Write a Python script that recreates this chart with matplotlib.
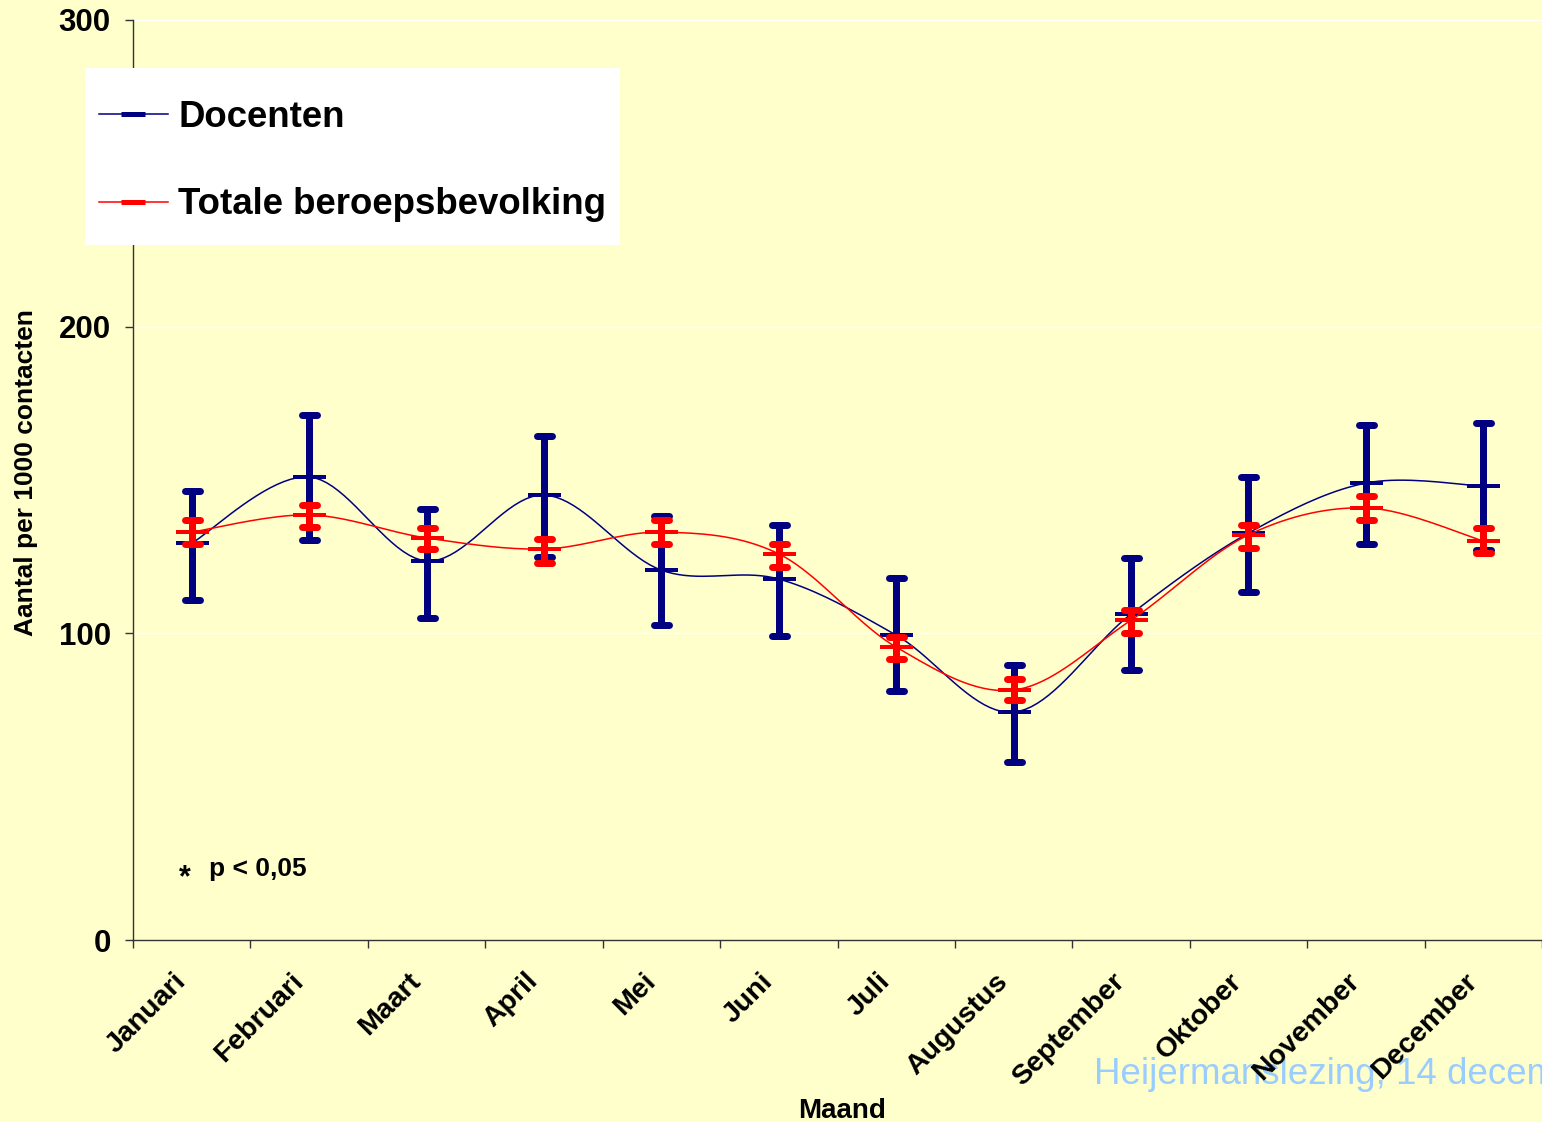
import numpy as np
import matplotlib.pyplot as plt
from matplotlib.lines import Line2D
from matplotlib.markers import MarkerStyle
from matplotlib.patches import Rectangle
from matplotlib.transforms import ScaledTranslation

plt.rcParams['font.family'] = ['Liberation Sans', 'DejaVu Sans']

# Data
maanden = ['Januari', 'Februari', 'Maart', 'April', 'Mei', 'Juni',
           'Juli', 'Augustus', 'September', 'Oktober', 'November', 'December']

docenten = [129.4, 151.0, 123.6, 145.1, 120.6, 117.7, 99.4, 74.3, 106.3, 132.7, 149.0, 148.0]
docenten_hoog = [146.4, 171.2, 140.5, 164.3, 138.2, 135.3, 118.0, 89.7, 124.6, 151.0, 167.9, 168.6]
docenten_laag = [110.9, 130.4, 105.0, 124.9, 102.7, 99.1, 81.2, 58.0, 88.0, 113.5, 129.1, 127.2]

totaal = [133.0, 138.6, 131.1, 127.5, 133.0, 125.9, 95.5, 81.5, 104.3, 132.1, 140.9, 130.1]
totaal_hoog = [136.9, 141.8, 134.3, 130.7, 136.9, 129.1, 98.8, 85.1, 107.6, 135.3, 144.8, 134.3]
totaal_laag = [129.1, 134.7, 127.5, 122.9, 129.1, 121.6, 91.6, 78.3, 100.1, 127.8, 136.9, 126.2]

NAVY = '#000080'
RED = '#FF0000'
BG = '#FFFFCC'
PX = 0.72  # points per pixel at dpi 100
W, H = 1542, 1122


# Excel-like smoothed line (Catmull-Rom through the data points)
def smooth(y, steps=20):
    y = np.asarray(y, dtype=float)
    x = np.arange(len(y), dtype=float)
    xp = np.concatenate([[x[0]], x, [x[-1]]])
    yp = np.concatenate([[y[0]], y, [y[-1]]])
    xs, ys = [], []
    for i in range(1, len(xp) - 2):
        t = np.linspace(0, 1, steps, endpoint=False)
        for arr, out in ((xp, xs), (yp, ys)):
            p0, p1, p2, p3 = arr[i - 1], arr[i], arr[i + 1], arr[i + 2]
            out.extend(0.5 * (2 * p1 + (-p0 + p2) * t
                              + (2 * p0 - 5 * p1 + 4 * p2 - p3) * t ** 2
                              + (-p0 + 3 * p1 - 3 * p2 + p3) * t ** 3))
    xs.append(x[-1])
    ys.append(y[-1])
    return np.array(xs), np.array(ys)


fig = plt.figure(figsize=(W / 100, H / 100), dpi=100, facecolor=BG)
ax = fig.add_axes([133 / W, 1 - 940 / H, 1 - 133 / W, (940 - 20) / H])
ax.set_facecolor(BG)

x = np.arange(len(maanden))


def draw_series(y, hoog, laag, color, z):
    sx, sy = smooth(y)
    ax.plot(sx, sy, color=color, lw=1.1, zorder=z)
    y = np.asarray(y)
    err = [y - np.asarray(laag), np.asarray(hoog) - y]
    _, caps, bars = ax.errorbar(x, y, yerr=err, fmt='none', ecolor=color,
                                elinewidth=7 * PX, capsize=7.5 * PX, capthick=7 * PX,
                                zorder=z + 1)
    for c in caps:
        c.set_marker(MarkerStyle('_', capstyle='round'))
    ax.plot(x, y, ls='none', marker='_', color=color, markersize=33 * PX,
            markeredgewidth=4 * PX, zorder=z + 2)


draw_series(docenten, docenten_hoog, docenten_laag, NAVY, 3)
draw_series(totaal, totaal_hoog, totaal_laag, RED, 6)

ax.set_xlim(-0.5, len(maanden) - 0.5)
ax.set_ylim(0, 300)
ax.set_yticks([0, 100, 200, 300])
ax.set_yticklabels(['0', '100', '200', '300'], fontsize=22.5, fontweight='bold')
ax.grid(axis='y', color='white', lw=1)
ax.set_axisbelow(True)

ax.set_xticks(np.arange(-0.5, len(maanden), 1.0))
ax.set_xticklabels([])
ax.set_xticks(x, minor=True)
ax.set_xticklabels(maanden, minor=True, rotation=45, ha='right', va='center',
                   fontsize=20.5, fontweight='bold', rotation_mode='anchor')
ax.tick_params(axis='x', which='minor', length=0, pad=27)
ax.tick_params(axis='both', which='major', length=6, width=1, color='#333333', direction='out')
ax.tick_params(axis='y', pad=10)
for lab in ax.get_xticklabels(minor=True):
    lab.set_transform(lab.get_transform() + ScaledTranslation(-0.10, 0, fig.dpi_scale_trans))

for s in ['top', 'right']:
    ax.spines[s].set_visible(False)
for s in ['left', 'bottom']:
    ax.spines[s].set_color('#333333')
    ax.spines[s].set_linewidth(1)

fig.text(26 / W, 1 - 473 / H, 'Aantal per 1000 contacten', rotation=90, fontsize=19,
         fontweight='bold', ha='center', va='center')
fig.text(842 / W, 1 - 1118 / H, 'Maand', fontsize=20, fontweight='bold',
         ha='center', va='baseline')

# legend: white box with the two entries
fig.patches.append(Rectangle((85 / W, 1 - 245 / H), (620 - 85) / W, (245 - 68) / H,
                             transform=fig.transFigure, facecolor='white',
                             edgecolor='none', zorder=10))
handles = [
    Line2D([], [], color=NAVY, lw=1.1, marker='_', markersize=24 * PX, markeredgewidth=5 * PX),
    Line2D([], [], color=RED, lw=1.1, marker='_', markersize=24 * PX, markeredgewidth=5 * PX),
]
leg = fig.legend(handles, ['Docenten', 'Totale beroepsbevolking'], loc='center left',
                 bbox_to_anchor=(99 / W, 1 - 161 / H), borderaxespad=0, borderpad=0,
                 prop={'size': 26.4, 'weight': 'bold'}, frameon=False,
                 handlelength=1.88, handletextpad=0.28, labelspacing=1.44)
leg.set_zorder(11)

fig.text(185 / W, 1 - 878 / H, '*', fontsize=22, fontweight='bold',
         ha='center', va='center')
fig.text(209 / W, 1 - 869 / H, 'p < 0,05', fontsize=19, fontweight='bold',
         ha='left', va='center')

fig.text(1094 / W, 1 - 1074 / H, 'Heijermanslezing, 14 december 2006',
         fontsize=26.5, color='#99CCFF', ha='left', va='center', zorder=-1)

fig.savefig('out.png', dpi=100, facecolor=BG)
